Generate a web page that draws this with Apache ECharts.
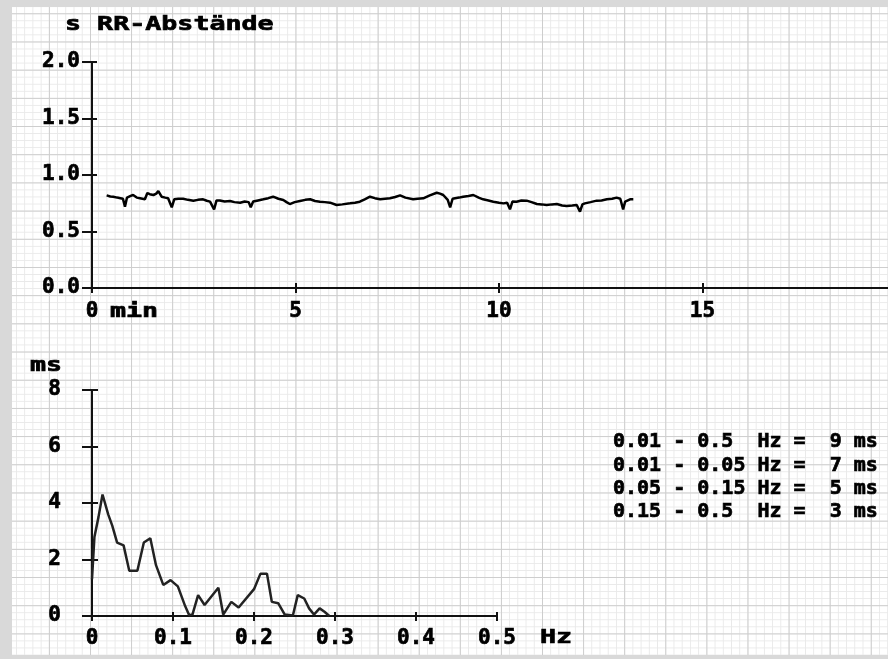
<!DOCTYPE html>
<html>
<head>
<meta charset="utf-8">
<script src="https://cdn.jsdelivr.net/npm/echarts@6/dist/echarts.min.js"></script>
<style>
html,body{margin:0;padding:0;width:888px;height:659px;overflow:hidden;background:#d9d9d9;}
#paper{position:absolute;left:12px;top:7px;width:876px;height:648px;background-color:#fff;
 background-image:
  linear-gradient(to right,#cdcdcd 1px,transparent 1px),
  linear-gradient(to bottom,#cdcdcd 1px,transparent 1px),
  linear-gradient(to right,#e9e9e9 1px,transparent 1px),
  linear-gradient(to bottom,#e9e9e9 1px,transparent 1px);
 background-size:41.1px 28.2px,41.1px 28.2px,8.22px 7.05px,8.22px 7.05px;
 background-position:36.9px 6.3px,36.9px 6.3px,4.0px 6.3px,4.0px 6.3px;}
#chart{position:absolute;left:0;top:0;width:888px;height:659px;}
</style>
</head>
<body>
<div id="paper"></div>
<div id="chart"></div>
<script>
// ---- RR intervals (top chart) ----
const rrMinutes = [0.36,0.45,0.52,0.62,0.70,0.76,0.81,0.86,0.95,1.01,1.10,1.18,1.30,1.36,1.42,1.51,1.58,1.63,1.71,1.80,1.87,1.96,2.02,2.12,2.24,2.36,2.49,2.60,2.73,2.82,2.90,3.00,3.06,3.14,3.26,3.39,3.50,3.64,3.75,3.85,3.90,3.96,4.08,4.21,4.33,4.45,4.58,4.70,4.78,4.86,4.98,5.11,5.24,5.36,5.48,5.60,5.72,5.85,6.01,6.15,6.34,6.46,6.58,6.70,6.83,6.95,7.08,7.20,7.32,7.45,7.57,7.70,7.89,8.00,8.14,8.30,8.47,8.55,8.63,8.74,8.80,8.86,8.92,9.02,9.12,9.25,9.37,9.50,9.61,9.74,9.86,10.00,10.11,10.20,10.27,10.33,10.43,10.55,10.68,10.80,10.93,11.05,11.17,11.30,11.42,11.55,11.66,11.80,11.91,11.99,12.05,12.11,12.25,12.40,12.52,12.65,12.78,12.89,12.98,13.05,13.10,13.14,13.22,13.30];
const rrSeconds = [0.82,0.81,0.808,0.80,0.795,0.79,0.72,0.80,0.815,0.823,0.80,0.794,0.785,0.84,0.83,0.823,0.835,0.858,0.808,0.80,0.794,0.714,0.785,0.79,0.79,0.78,0.773,0.78,0.785,0.772,0.764,0.696,0.775,0.775,0.765,0.770,0.76,0.755,0.765,0.76,0.714,0.765,0.775,0.785,0.795,0.808,0.79,0.779,0.76,0.743,0.76,0.77,0.78,0.785,0.77,0.764,0.76,0.755,0.735,0.74,0.749,0.755,0.764,0.785,0.808,0.795,0.785,0.79,0.794,0.805,0.82,0.80,0.785,0.79,0.794,0.82,0.843,0.835,0.823,0.78,0.714,0.79,0.794,0.80,0.808,0.815,0.823,0.80,0.785,0.775,0.764,0.755,0.749,0.755,0.696,0.765,0.764,0.775,0.773,0.76,0.743,0.74,0.735,0.74,0.743,0.73,0.726,0.73,0.735,0.675,0.74,0.749,0.76,0.773,0.775,0.785,0.79,0.80,0.79,0.696,0.765,0.78,0.785,0.785];
const rrXTicks = [0, 5, 10, 15, 20];
const rrYTicks = [0, 0.5, 1.0, 1.5, 2.0];

// ---- Spectrum (bottom chart) ----
const specHz = [0,0.003,0.008,0.013,0.02,0.025,0.031,0.039,0.046,0.056,0.064,0.072,0.079,0.088,0.097,0.106,0.115,0.12,0.124,0.131,0.139,0.156,0.162,0.172,0.181,0.2,0.208,0.216,0.222,0.23,0.238,0.248,0.254,0.262,0.268,0.274,0.281,0.287,0.293];
const specMs = [1.3,2.8,3.5,4.3,3.6,3.2,2.6,2.5,1.6,1.6,2.6,2.75,1.8,1.1,1.27,1.05,0.35,0.03,0.05,0.74,0.39,1.0,0.05,0.5,0.3,0.95,1.5,1.5,0.5,0.45,0.05,0.02,0.74,0.62,0.27,0.05,0.27,0.15,0.0];
const specXTicks = [0, 0.1, 0.2, 0.3, 0.4, 0.5];
const specYTicks = [0, 2, 4, 6, 8];

// ---- Band results ----
const bandLow = ['0.01', '0.01', '0.05', '0.15'];
const bandHigh = ['0.5', '0.05', '0.15', '0.5'];
const bandMs = [9, 7, 5, 3];

const FONT = '"DejaVu Sans Mono","Liberation Mono",monospace';
const INK = '#111';
const lbl = {color:'#000', fontFamily:FONT, fontWeight:'bold', fontSize:21, textBorderColor:'#000', textBorderWidth:0.7};
const line = {show:true, lineStyle:{color:INK, width:2}};
const tickOut = (len) => ({show:true, length:len, lineStyle:{color:INK, width:2}});
const tickIn = (len) => ({show:true, inside:true, length:len, lineStyle:{color:INK, width:2}});

function axisFrom(ticks, extra) {
  return Object.assign({
    type:'value', min:ticks[0], max:ticks[ticks.length-1],
    interval:ticks[1]-ticks[0], splitLine:{show:false}
  }, extra);
}

const chart = echarts.init(document.getElementById('chart'), null, {renderer:'canvas'});

const bandLines = bandLow.map((lo, i) =>
  lo + ' - ' + bandHigh[i].padEnd(4) + ' Hz =  ' + bandMs[i] + ' ms');

const txt = (text, x, y, sx) => ({
  type:'text', x:x, y:y, scaleX:sx || 1, silent:true,
  style:{text:text, fill:'#000', stroke:'#000', lineWidth:0.7, fontFamily:FONT, fontWeight:'bold', fontSize:20, verticalAlign:'middle', align:'left'}
});

chart.setOption({
  animation:false,
  grid:[
    {left:92, right:-18, top:62, bottom:371, outerBoundsMode:'none', containLabel:false},
    {left:92, right:391, top:390, bottom:43, outerBoundsMode:'none', containLabel:false}
  ],
  xAxis:[
    axisFrom(rrXTicks, {gridIndex:0, position:'bottom', axisLine:line, axisTick:tickOut(5), axisLabel:Object.assign({margin:13}, lbl)}),
    axisFrom(rrXTicks, {gridIndex:0, position:'bottom', axisLine:{show:false}, axisTick:tickIn(5), axisLabel:{show:false}}),
    axisFrom(specXTicks, {gridIndex:1, position:'bottom', axisLine:line, axisTick:tickOut(5), axisLabel:Object.assign({margin:12}, lbl)}),
    axisFrom(specXTicks, {gridIndex:1, position:'bottom', axisLine:{show:false}, axisTick:tickIn(4), axisLabel:{show:false}})
  ],
  yAxis:[
    axisFrom(rrYTicks, {gridIndex:0, position:'left', axisLine:line, axisTick:tickOut(10), axisLabel:Object.assign({margin:12, formatter:v=>v.toFixed(1)}, lbl)}),
    axisFrom(rrYTicks, {gridIndex:0, position:'left', axisLine:{show:false}, axisTick:tickIn(5), axisLabel:{show:false}}),
    axisFrom(specYTicks, {gridIndex:1, position:'left', axisLine:line, axisTick:tickOut(10), axisLabel:Object.assign({margin:31}, lbl)}),
    axisFrom(specYTicks, {gridIndex:1, position:'left', axisLine:{show:false}, axisTick:tickIn(6), axisLabel:{show:false}})
  ],
  series:[
    {type:'line', xAxisIndex:0, yAxisIndex:0, showSymbol:false, silent:true,
     data:rrMinutes.map((t,i)=>[t, rrSeconds[i]]), lineStyle:{color:'#000', width:2.5}},
    {type:'line', xAxisIndex:2, yAxisIndex:2, showSymbol:false, silent:true,
     data:specHz.map((f,i)=>[f, specMs[i]]), lineStyle:{color:'#222', width:2.5}}
  ],
  graphic:[
    txt('s RR-Abstände', 65, 25, 1.333),
    txt('min', 110, 312, 1.333),
    txt('ms', 30, 366, 1.333),
    txt('Hz', 540, 638, 1.333)
  ].concat(bandLines.map((s,i)=>txt(s, 613, 442 + i*23.3, 1)))
});
</script>
</body>
</html>
